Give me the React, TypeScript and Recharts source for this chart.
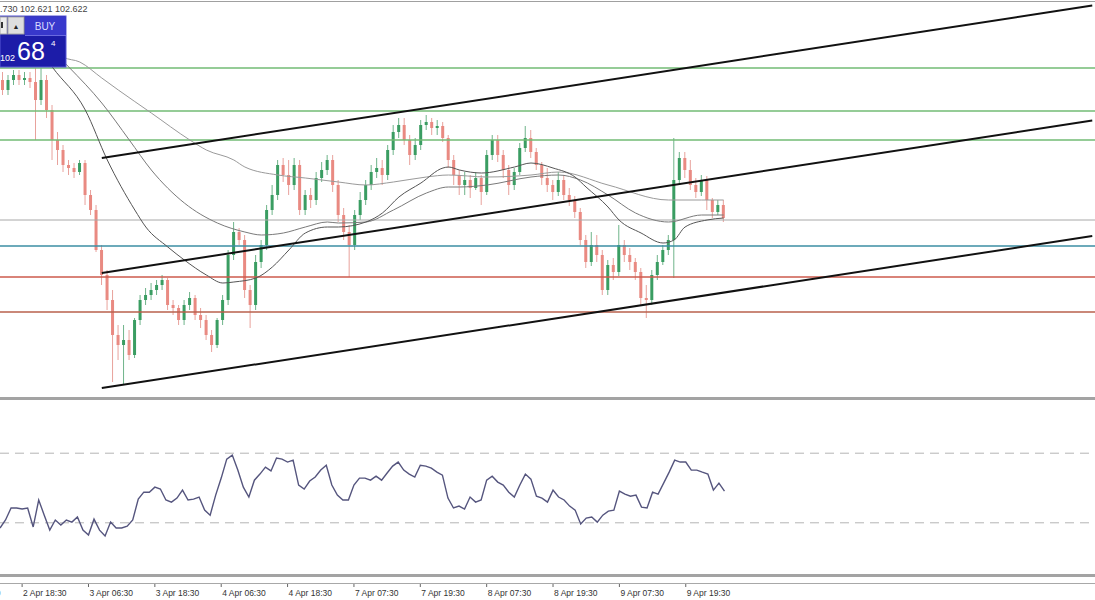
import React from 'react';
import { ComposedChart, LineChart, Bar, Line, XAxis, YAxis, ReferenceLine } from 'recharts';

// candles (oldest first)
const opens = [
  103.52, 103.46, 103.52, 103.55, 103.52, 103.532, 103.508, 103.4, 103.52, 103.34,
  103.16, 103.1, 103.01, 102.992, 102.968, 103.022, 102.83, 102.74, 102.5, 102.35,
  102.2, 101.99, 101.93, 101.96, 101.87, 102.08, 102.2, 102.23, 102.26, 102.29,
  102.32, 102.17, 102.152, 102.08, 102.17, 102.212, 102.11, 102.08, 101.99, 101.93,
  102.08, 102.2, 102.47, 102.608, 102.56, 102.26, 102.17, 102.428, 102.53, 102.74,
  102.83, 103.01, 102.95, 102.89, 103.01, 102.74, 102.83, 102.8, 102.932, 102.98,
  103.04, 102.89, 102.71, 102.608, 102.53, 102.71, 102.8, 102.89, 102.968, 102.992,
  102.95, 103.1, 103.208, 103.25, 103.16, 103.07, 103.13, 103.25, 103.268, 103.232,
  103.244, 103.172, 103.04, 102.95, 102.89, 102.92, 102.872, 102.932, 102.848, 103.07,
  103.16, 103.07, 102.98, 102.89, 102.968, 103.112, 103.172, 103.088, 103.01, 102.932,
  102.89, 102.848, 102.92, 102.83, 102.8, 102.728, 102.56, 102.428, 102.53, 102.47,
  102.26, 102.41, 102.368, 102.53, 102.47, 102.428, 102.368, 102.212, 102.2, 102.35,
  102.428, 102.5, 102.56, 102.92, 103.052, 102.98, 102.89, 102.848, 102.92, 102.8,
  102.728, 102.77,
];
const highs = [
  103.568, 103.55, 103.58, 103.58, 103.568, 103.568, 103.592, 103.592, 103.55, 103.37,
  103.208, 103.13, 103.04, 103.022, 103.04, 103.04, 102.86, 102.77, 102.53, 102.38,
  102.26, 102.05, 102.05, 102.02, 102.092, 102.23, 102.272, 102.302, 102.32, 102.35,
  102.332, 102.2, 102.17, 102.2, 102.248, 102.23, 102.152, 102.11, 102.02, 102.092,
  102.23, 102.5, 102.668, 102.632, 102.59, 102.29, 102.47, 102.56, 102.77, 102.89,
  103.04, 103.052, 103.04, 103.052, 103.04, 102.86, 102.872, 102.968, 103.028, 103.07,
  103.07, 102.92, 102.752, 102.65, 102.74, 102.848, 102.92, 103.01, 103.052, 103.04,
  103.13, 103.25, 103.292, 103.292, 103.19, 103.172, 103.28, 103.31, 103.292, 103.28,
  103.268, 103.19, 103.07, 102.98, 102.968, 102.95, 102.968, 102.95, 103.1, 103.19,
  103.19, 103.1, 103.01, 102.992, 103.142, 103.244, 103.22, 103.112, 103.028, 102.992,
  102.92, 102.968, 102.95, 102.872, 102.824, 102.752, 102.59, 102.608, 102.59, 102.5,
  102.44, 102.452, 102.65, 102.56, 102.512, 102.452, 102.392, 102.29, 102.38, 102.47,
  102.53, 102.59, 103.172, 103.088, 103.088, 103.04, 102.932, 102.95, 102.944, 102.812,
  102.8, 102.8,
];
const lows = [
  103.43, 103.43, 103.49, 103.49, 103.49, 103.472, 103.16, 103.37, 103.292, 103.04,
  103.01, 102.968, 102.95, 102.932, 102.95, 102.77, 102.71, 102.488, 102.29, 102.14,
  101.708, 101.84, 101.69, 101.84, 101.852, 102.05, 102.17, 102.2, 102.23, 102.26,
  102.14, 102.11, 102.05, 102.05, 102.14, 102.08, 102.032, 101.96, 101.888, 101.912,
  102.05, 102.17, 102.44, 102.53, 102.212, 102.032, 102.14, 102.392, 102.5, 102.71,
  102.8, 102.908, 102.83, 102.86, 102.71, 102.71, 102.752, 102.77, 102.908, 102.95,
  102.848, 102.668, 102.56, 102.338, 102.5, 102.68, 102.77, 102.86, 102.932, 102.89,
  102.92, 103.07, 103.172, 103.13, 103.01, 103.04, 103.1, 103.22, 103.19, 103.19,
  103.148, 102.992, 102.89, 102.83, 102.83, 102.812, 102.86, 102.77, 102.83, 103.04,
  103.028, 102.932, 102.83, 102.86, 102.95, 103.088, 103.052, 102.98, 102.89, 102.848,
  102.8, 102.824, 102.8, 102.764, 102.692, 102.53, 102.392, 102.404, 102.428, 102.23,
  102.23, 102.32, 102.344, 102.428, 102.38, 102.32, 102.17, 102.092, 102.17, 102.32,
  102.41, 102.47, 102.332, 102.89, 102.932, 102.86, 102.812, 102.824, 102.74, 102.692,
  102.71, 102.668,
];
const closes = [
  103.46, 103.52, 103.55, 103.52, 103.532, 103.508, 103.4, 103.52, 103.34, 103.16,
  103.1, 103.01, 102.992, 102.968, 103.022, 102.83, 102.74, 102.5, 102.35, 102.2,
  101.99, 101.93, 101.96, 101.87, 102.08, 102.2, 102.23, 102.26, 102.29, 102.32,
  102.17, 102.152, 102.08, 102.17, 102.212, 102.11, 102.08, 101.99, 101.93, 102.08,
  102.2, 102.47, 102.608, 102.56, 102.26, 102.17, 102.428, 102.53, 102.74, 102.83,
  103.01, 102.95, 102.89, 103.01, 102.74, 102.83, 102.8, 102.932, 102.98, 103.04,
  102.89, 102.71, 102.608, 102.53, 102.71, 102.8, 102.89, 102.968, 102.992, 102.95,
  103.1, 103.208, 103.25, 103.16, 103.07, 103.13, 103.25, 103.268, 103.232, 103.244,
  103.172, 103.04, 102.95, 102.89, 102.92, 102.872, 102.932, 102.848, 103.07, 103.16,
  103.07, 102.98, 102.89, 102.968, 103.112, 103.172, 103.088, 103.01, 102.932, 102.89,
  102.848, 102.92, 102.83, 102.8, 102.728, 102.56, 102.428, 102.53, 102.47, 102.26,
  102.41, 102.368, 102.53, 102.47, 102.428, 102.368, 102.212, 102.2, 102.35, 102.428,
  102.5, 102.56, 102.92, 103.052, 102.98, 102.89, 102.848, 102.92, 102.8, 102.728,
  102.77, 102.692,
];

// moving averages, sampled along the curves: [bar index, price]
const maFast: [number, number][] = [
  [5, 103.79], [9, 103.598], [15, 103.34], [19, 103.04], [24, 102.74], [26, 102.638],
  [30, 102.518], [33, 102.44], [37, 102.35], [40, 102.302], [42, 102.308], [46, 102.332],
  [49, 102.398], [52, 102.5], [55, 102.602], [59, 102.638], [61, 102.638], [66, 102.668],
  [69, 102.722], [72, 102.818], [76, 102.902], [80, 102.992], [81, 102.998], [83, 102.98],
  [87, 102.962], [93, 102.998], [96, 103.022], [100, 102.992], [104, 102.938], [106, 102.878],
  [110, 102.758], [112, 102.68], [116, 102.602], [120, 102.542], [122, 102.56], [124, 102.638],
  [128, 102.68], [131, 102.692],
];
const maMedium: [number, number][] = [
  [8, 103.73], [12, 103.598], [18, 103.382], [23, 103.16], [27, 102.98], [33, 102.782],
  [39, 102.662], [44, 102.608], [47, 102.59], [51, 102.602], [55, 102.638], [59, 102.668],
  [61, 102.662], [66, 102.668], [71, 102.74], [77, 102.842], [81, 102.878], [83, 102.878],
  [88, 102.89], [96, 102.938], [101, 102.95], [105, 102.92], [110, 102.83], [115, 102.722],
  [121, 102.668], [127, 102.71], [131, 102.71],
];
const maSlow: [number, number][] = [
  [8, 103.76], [11, 103.658], [14, 103.628], [18, 103.532], [21, 103.46], [27, 103.322],
  [34, 103.16], [37, 103.1], [42, 103.04], [44, 102.998], [50, 102.95], [55, 102.932],
  [61, 102.908], [66, 102.89], [71, 102.908], [77, 102.938], [81, 102.95], [88, 102.938],
  [96, 102.95], [101, 102.968], [110, 102.89], [121, 102.8], [127, 102.8], [131, 102.8],
];

const rsiValues = [
  27.0, 31.6, 38.5, 38.5, 37.9, 38.5, 27.6, 43.1, 34.4, 25.8,
  31.6, 28.7, 31.6, 30.4, 33.3, 25.8, 23.0, 32.1, 25.8, 22.4,
  30.4, 27.0, 27.0, 28.1, 31.6, 43.6, 47.6, 47.6, 50.5, 49.4,
  43.1, 41.9, 44.2, 48.8, 43.1, 43.6, 44.8, 37.3, 34.4, 45.9,
  55.7, 66.6, 68.9, 60.3, 50.5, 44.8, 54.5, 58.0, 62.0, 59.8,
  67.2, 66.6, 64.9, 66.0, 51.7, 49.4, 54.0, 56.3, 60.3, 63.1,
  51.7, 45.9, 43.1, 43.1, 51.7, 55.7, 55.7, 54.5, 56.8, 54.5,
  58.6, 62.6, 64.9, 60.3, 58.0, 56.3, 63.1, 62.6, 61.4, 59.1,
  57.4, 44.2, 38.5, 39.6, 37.9, 44.8, 41.9, 43.1, 54.5, 56.8,
  53.4, 51.7, 47.6, 44.8, 51.7, 58.0, 55.1, 45.3, 44.2, 41.9,
  48.8, 44.8, 43.1, 39.6, 37.3, 29.3, 32.7, 33.3, 30.4, 34.4,
  36.7, 37.3, 48.2, 46.5, 45.3, 45.9, 39.0, 38.5, 47.6, 46.5,
  52.8, 59.1, 66.0, 64.9, 64.9, 60.3, 60.3, 59.1, 58.0, 48.8,
  52.8, 48.2,
];
const rsiLevels = [70, 30];

// horizontal levels and channel
const resistanceLevels = [103.592, 103.334, 103.16];
const pivotLevel = 102.524;
const supportLevels = [102.338, 102.128];
const bidPrice = 102.68;
const channelLines: [[number, number], [number, number]][] = [
  [[18, 103.052], [198, 103.967]],
  [[18, 102.362], [198, 103.277]],
  [[18, 101.672], [198, 102.584]],
];

const timeLabels = [
  '2 Apr 06:30', '2 Apr 18:30', '3 Apr 06:30', '3 Apr 18:30', '4 Apr 06:30', '4 Apr 18:30',
  '7 Apr 07:30', '7 Apr 19:30', '8 Apr 07:30', '8 Apr 19:30', '9 Apr 07:30', '9 Apr 19:30',
];
const quote = '102.730 102.621 102.622';

const W = 1095;
const SLOTS = 199;
const BAND = W / SLOTS;
const BARS_PER_LABEL = 12;
const FIRST_LABEL_SLOT = 4 - BARS_PER_LABEL;
const FONT = "'Liberation Sans', Arial, sans-serif";

const fastMap = new Map(maFast);
const medMap = new Map(maMedium);
const slowMap = new Map(maSlow);

const data = Array.from({ length: SLOTS }, (_, i) => {
  const has = i < closes.length;
  return {
    slot: i,
    range: has ? [lows[i], highs[i]] : null,
    open: has ? opens[i] : null,
    high: has ? highs[i] : null,
    low: has ? lows[i] : null,
    close: has ? closes[i] : null,
    maFast: fastMap.get(i) ?? null,
    maMedium: medMap.get(i) ?? null,
    maSlow: slowMap.get(i) ?? null,
    rsi: has ? rsiValues[i] : null,
  };
});

const labelSlots = timeLabels.map((_, k) => FIRST_LABEL_SLOT + k * BARS_PER_LABEL);
const axisTicks = labelSlots.filter((s) => s >= 0);

const Candle = (props: any) => {
  const { x, y, width, height, payload } = props;
  if (!payload || payload.open == null || !height) return null;
  const { open, close, high, low } = payload;
  const k = height / (high - low);
  const top = y + (high - Math.max(open, close)) * k;
  const bottom = y + (high - Math.min(open, close)) * k;
  const up = close >= open;
  const fill = up ? '#3a9d62' : '#e98a82';
  const wick = up ? '#6fb48a' : '#e8a29c';
  const cx = x + width / 2;
  return (
    <g>
      <line x1={cx} x2={cx} y1={y} y2={y + height} stroke={wick} strokeWidth={1} />
      <rect x={x} y={top} width={width} height={Math.max(1, bottom - top)} fill={fill} />
    </g>
  );
};

const TimeTick = (props: any) => {
  const { x, payload } = props;
  const idx = labelSlots.indexOf(payload.value);
  const prevIdx = idx - 1;
  return (
    <g>
      <line x1={x} x2={x} y1={182} y2={186} stroke="#666" />
      <text x={x + 1} y={195} fontSize={8.5} fontFamily={FONT} fill="#333">
        {timeLabels[idx]}
      </text>
      {prevIdx >= 0 && labelSlots[prevIdx] < 0 && (
        <text x={x - BARS_PER_LABEL * BAND + 1} y={195} fontSize={8.5} fontFamily={FONT} fill="#333">
          {timeLabels[prevIdx]}
        </text>
      )}
    </g>
  );
};

const App: React.FC = () => {
  return (
    <div style={{ position: 'absolute', left: 0, top: 0, width: W, height: 600, overflow: 'hidden', background: '#fff' }}>
      <div style={{ position: 'absolute', left: 0, top: 0 }}>
        <ComposedChart width={W} height={397} data={data} margin={{ top: 0, right: 0, bottom: 0, left: 0 }}>
          <XAxis dataKey="slot" hide />
          <YAxis hide domain={[101.618, 104.0]} allowDataOverflow />
          {resistanceLevels.map((p) => (
            <ReferenceLine key={p} y={p} stroke="#72bb74" strokeWidth={1.5} />
          ))}
          <ReferenceLine y={bidPrice} stroke="#a8a8a8" strokeWidth={1} />
          <ReferenceLine y={pivotLevel} stroke="#3b8ea3" strokeWidth={1.5} />
          <ReferenceLine y={supportLevels[0]} stroke="#cc5a4c" strokeWidth={1.5} />
          <ReferenceLine y={supportLevels[1]} stroke="#b9604c" strokeWidth={1.5} />
          <Bar dataKey="range" shape={Candle} barSize={3} isAnimationActive={false} />
          <Line dataKey="maSlow" type="monotone" connectNulls dot={false} activeDot={false} stroke="#9a9a9a" strokeWidth={1} isAnimationActive={false} />
          <Line dataKey="maMedium" type="monotone" connectNulls dot={false} activeDot={false} stroke="#7a7a7a" strokeWidth={1} isAnimationActive={false} />
          <Line dataKey="maFast" type="monotone" connectNulls dot={false} activeDot={false} stroke="#555" strokeWidth={1} isAnimationActive={false} />
          {channelLines.map(([a, b], i) => (
            <ReferenceLine
              key={i}
              segment={[{ x: a[0], y: a[1] }, { x: b[0], y: b[1] }]}
              stroke="#111"
              strokeWidth={2}
            />
          ))}
        </ComposedChart>
      </div>

      <div style={{ position: 'absolute', left: 0, top: 401 }}>
        <LineChart width={W} height={199} data={data} margin={{ top: 0, right: 0, bottom: 0, left: 0 }}>
          <XAxis
            dataKey="slot"
            height={25}
            ticks={axisTicks}
            interval={0}
            axisLine={false}
            tickLine={false}
            tick={<TimeTick />}
          />
          <YAxis hide domain={[0, 100]} />
          {rsiLevels.map((v) => (
            <ReferenceLine key={v} y={v} stroke="#b4b4b4" strokeDasharray="9 6" />
          ))}
          <Line dataKey="rsi" dot={false} activeDot={false} stroke="#55557e" strokeWidth={1.4} isAnimationActive={false} />
        </LineChart>
      </div>

      <svg width={W} height={600} style={{ position: 'absolute', left: 0, top: 0, pointerEvents: 'none' }}>
        <line x1={0} x2={W} y1={1.5} y2={1.5} stroke="#a0a0a0" />
        <rect x={0} y={397} width={W} height={3} fill="#a3a3a3" />
        <rect x={0} y={574} width={W} height={3} fill="#a3a3a3" />
        <line x1={0} x2={W} y1={583.5} y2={583.5} stroke="#a8a8a8" />
        <text x={-15} y={12} fontSize={9} fontFamily={FONT} fill="#444">{quote}</text>
        {/* one-click trading panel */}
        <rect x={0} y={16} width={66} height={51} fill="#1c1ca8" stroke="#5656d6" />
        <rect x={0} y={17} width={7} height={17} fill="#ececec" stroke="#a8a8a8" />
        <rect x={1} y={22} width={2} height={6} fill="#333" />
        <rect x={8} y={17} width={16} height={17} fill="#dedede" stroke="#a8a8a8" />
        <text x={16} y={29} fontSize={7} textAnchor="middle" fontFamily={FONT} fill="#222">▲</text>
        <rect x={25} y={17} width={41} height={18} fill="#3838cc" />
        <text x={45} y={30} fontSize={10} textAnchor="middle" fontFamily={FONT} fill="#dcdcff">BUY</text>
        <line x1={25} x2={66} y1={35.5} y2={35.5} stroke="#6a6ae0" />
        <text x={0} y={61} fontSize={9} fontFamily={FONT} fill="#fff">102</text>
        <text x={17} y={60} fontSize={25} fontFamily={FONT} fill="#fff">68</text>
        <text x={51} y={46} fontSize={8} fontFamily={FONT} fill="#fff">4</text>
      </svg>
    </div>
  );
};

export default App;
